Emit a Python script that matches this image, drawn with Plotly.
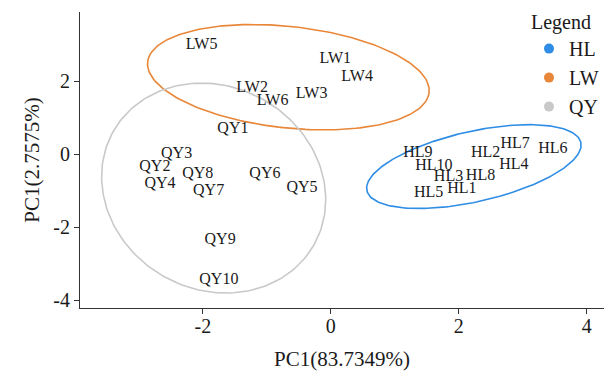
import numpy as np
import plotly.graph_objects as go

# ---- data ----
hl_names = ["HL1", "HL2", "HL3", "HL4", "HL5", "HL6", "HL7", "HL8", "HL9", "HL10"]
hl_x = [2.05, 2.42, 1.84, 2.86, 1.53, 3.47, 2.88, 2.34, 1.36, 1.61]
hl_y = [-0.96, 0.03, -0.62, -0.29, -1.07, 0.16, 0.28, -0.60, 0.04, -0.32]

lw_names = ["LW1", "LW2", "LW3", "LW4", "LW5", "LW6"]
lw_x = [0.07, -1.23, -0.30, 0.41, -2.02, -0.91]
lw_y = [2.61, 1.82, 1.66, 2.12, 3.00, 1.47]

qy_names = ["QY1", "QY2", "QY3", "QY4", "QY5", "QY6", "QY7", "QY8", "QY9", "QY10"]
qy_x = [-1.53, -2.75, -2.41, -2.67, -0.45, -1.03, -1.91, -2.08, -1.73, -1.75]
qy_y = [0.69, -0.34, 0.00, -0.80, -0.93, -0.54, -1.00, -0.54, -2.35, -3.43]

x_ticks = [-2, 0, 2, 4]
x_tick_labels = ["-2", "0", "2", "4"]
y_ticks = [-4, -2, 0, 2]
y_tick_labels = ["-4", "-2", "0", "2"]

groups = [
    ("HL", hl_names, hl_x, hl_y, "#2f8de6"),
    ("LW", lw_names, lw_x, lw_y, "#e8873a"),
    ("QY", qy_names, qy_x, qy_y, "#c9c9c9"),
]

FONT = "Liberation Serif"


def conf_ellipse(x, y, chi2=5.991, n=200):
    x = np.asarray(x, float)
    y = np.asarray(y, float)
    cov = np.cov(x, y)
    vals, vecs = np.linalg.eigh(cov)
    t = np.linspace(0, 2 * np.pi, n)
    circ = np.vstack([np.cos(t), np.sin(t)])
    pts = vecs @ (np.sqrt(vals * chi2)[:, None] * circ)
    return pts[0] + x.mean(), pts[1] + y.mean()


fig = go.Figure()

for name, labels, xs, ys, col in groups:
    ex, ey = conf_ellipse(xs, ys)
    fig.add_trace(go.Scatter(x=ex, y=ey, mode="lines",
                             line=dict(color=col, width=1.6),
                             showlegend=False, hoverinfo="skip"))

for name, labels, xs, ys, col in groups:
    fig.add_trace(go.Scatter(x=xs, y=ys, mode="text", text=labels,
                             textfont=dict(family=FONT, size=16, color="#1a1a1a"),
                             showlegend=False, name=name))

for name, labels, xs, ys, col in groups:
    fig.add_trace(go.Scatter(x=[None], y=[None], mode="markers", name=name,
                             marker=dict(color=col, size=10)))

tickfont = dict(family=FONT, size=20, color="#1a1a1a")

fig.update_layout(
    width=607, height=371,
    margin=dict(l=80, r=3, t=12, b=63, autoexpand=False),
    paper_bgcolor="white", plot_bgcolor="white",
    font=dict(family=FONT, size=20, color="#1a1a1a"),
    legend=dict(title=dict(text="Legend", font=dict(family=FONT, size=20)),
                x=1.0, xanchor="right", y=1.03, yanchor="top",
                font=dict(family=FONT, size=20), bgcolor="rgba(0,0,0,0)",
                itemwidth=30, tracegroupgap=0),
    xaxis=dict(range=[-3.92, 4.27], tickvals=x_ticks, ticktext=x_tick_labels,
               tickfont=tickfont, ticklabelstandoff=-5,
               showgrid=False, zeroline=False, automargin=False,
               showline=True, linecolor="#333", linewidth=1,
               ticks="outside", ticklen=5, tickcolor="#333"),
    yaxis=dict(range=[-4.21, 3.9], tickvals=y_ticks, ticktext=y_tick_labels,
               tickfont=tickfont,
               showgrid=False, zeroline=False, automargin=False,
               showline=True, linecolor="#333", linewidth=1,
               ticks="outside", ticklen=5, tickcolor="#333",
               title=dict(text="PC1(2.7575%)", font=dict(family=FONT, size=21), standoff=7)),
    annotations=[dict(text="PC1(83.7349%)", xref="paper", yref="paper",
                      x=0.5, y=-0.171, xanchor="center", yanchor="middle",
                      showarrow=False, font=dict(family=FONT, size=21, color="#1a1a1a"))],
)

fig.write_html("out.html", config={"displayModeBar": False},
               post_script="document.body.style.margin='0';")
